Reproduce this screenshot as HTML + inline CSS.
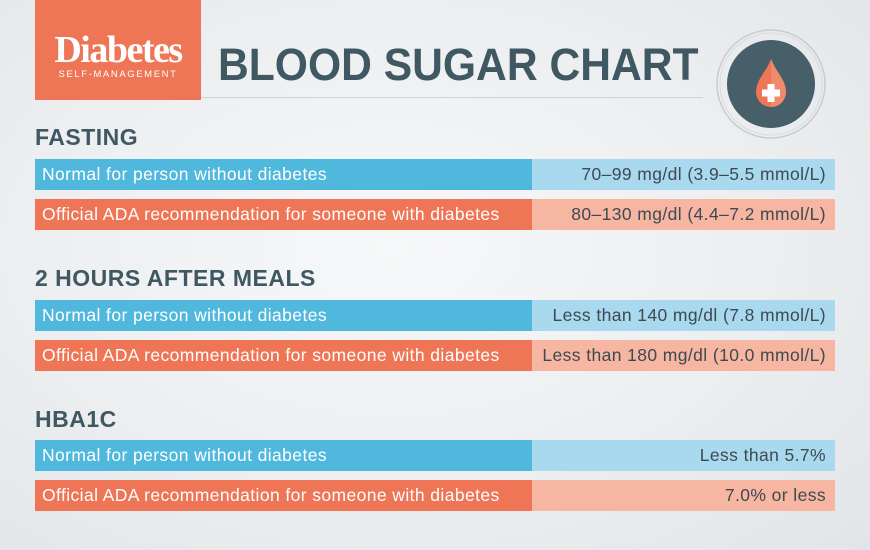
<!DOCTYPE html>
<html><head><meta charset="utf-8"><style>
body{margin:0;width:870px;height:550px;overflow:hidden;font-family:"Liberation Sans",sans-serif;
background:radial-gradient(ellipse at 45% 45%,#f7f8f9 0%,#eceef0 55%,#e2e5e8 100%);position:relative}
.abs{position:absolute}
.logo{left:35px;top:0;width:166px;height:100px;background:#ee7556;color:#fff;text-align:center}
.logo .d{font-family:"Liberation Serif",serif;font-size:38px;font-weight:bold;letter-spacing:-1.5px;margin-top:32px;line-height:36px}
.logo .s{font-size:9.5px;letter-spacing:1.6px;margin-top:1px}
.title{left:218px;top:41px;font-size:45px;font-weight:bold;color:#3f5862;line-height:48px;white-space:nowrap;transform:scaleX(0.947);transform-origin:0 0}
.hr{left:201px;top:97px;width:502px;height:1px;background:#cfd3d6}
.h{left:35px;font-size:23px;font-weight:bold;color:#3f5862;letter-spacing:0.5px}
.row{left:35px;width:800px;height:31px;font-size:17.5px;letter-spacing:0.4px;line-height:31px;white-space:nowrap}
.row .l{position:absolute;left:0;top:0;width:497px;height:100%;color:#fff;padding-left:7px;box-sizing:border-box}
.row .r{position:absolute;left:497px;top:0;width:303px;height:100%;text-align:right;padding-right:9px;box-sizing:border-box;color:#3f4a50}
.b .l{background:#4fb8dc}.b .r{background:#a9d9ee}
.o .l{background:#ee7556}.o .r{background:#f6b6a2}
</style></head><body>
<div class="abs logo"><div class="d">Diabetes</div><div class="s">SELF-MANAGEMENT</div></div>
<div class="abs title">BLOOD SUGAR CHART</div>
<div class="abs hr"></div>
<svg class="abs" style="left:710px;top:24px" width="122" height="122" viewBox="0 0 122 122">
<circle cx="61" cy="60" r="54" fill="none" stroke="#c9ccd0" stroke-width="1.5"/>
<circle cx="61" cy="60" r="51" fill="none" stroke="#d8dbde" stroke-width="1"/>
<circle cx="61" cy="60" r="44" fill="#465f69"/>
<path d="M61 35 C56 48 46 56 46 68 A15 15 0 0 0 76 68 C76 56 66 48 61 35Z" fill="#ee7556"/>
<path d="M61 35 C66 48 76 56 76 68 A15 15 0 0 1 61 83Z" fill="#f08a6c"/>
<rect x="57.5" y="60" width="7" height="18" fill="#fff"/><rect x="52" y="65.5" width="18" height="7" fill="#fff"/>
</svg>
<div class="abs h" style="top:124px">FASTING</div>
<div class="abs row b" style="top:159px"><div class="l">Normal for person without diabetes</div><div class="r">70–99 mg/dl (3.9–5.5 mmol/L)</div></div>
<div class="abs row o" style="top:199px"><div class="l">Official ADA recommendation for someone with diabetes</div><div class="r">80–130 mg/dl (4.4–7.2 mmol/L)</div></div>
<div class="abs h" style="top:265px">2 HOURS AFTER MEALS</div>
<div class="abs row b" style="top:300px"><div class="l">Normal for person without diabetes</div><div class="r">Less than 140 mg/dl (7.8 mmol/L)</div></div>
<div class="abs row o" style="top:340px"><div class="l">Official ADA recommendation for someone with diabetes</div><div class="r">Less than 180 mg/dl (10.0 mmol/L)</div></div>
<div class="abs h" style="top:406px">HBA1C</div>
<div class="abs row b" style="top:440px"><div class="l">Normal for person without diabetes</div><div class="r">Less than 5.7%</div></div>
<div class="abs row o" style="top:480px"><div class="l">Official ADA recommendation for someone with diabetes</div><div class="r">7.0% or less</div></div>
</body></html>
